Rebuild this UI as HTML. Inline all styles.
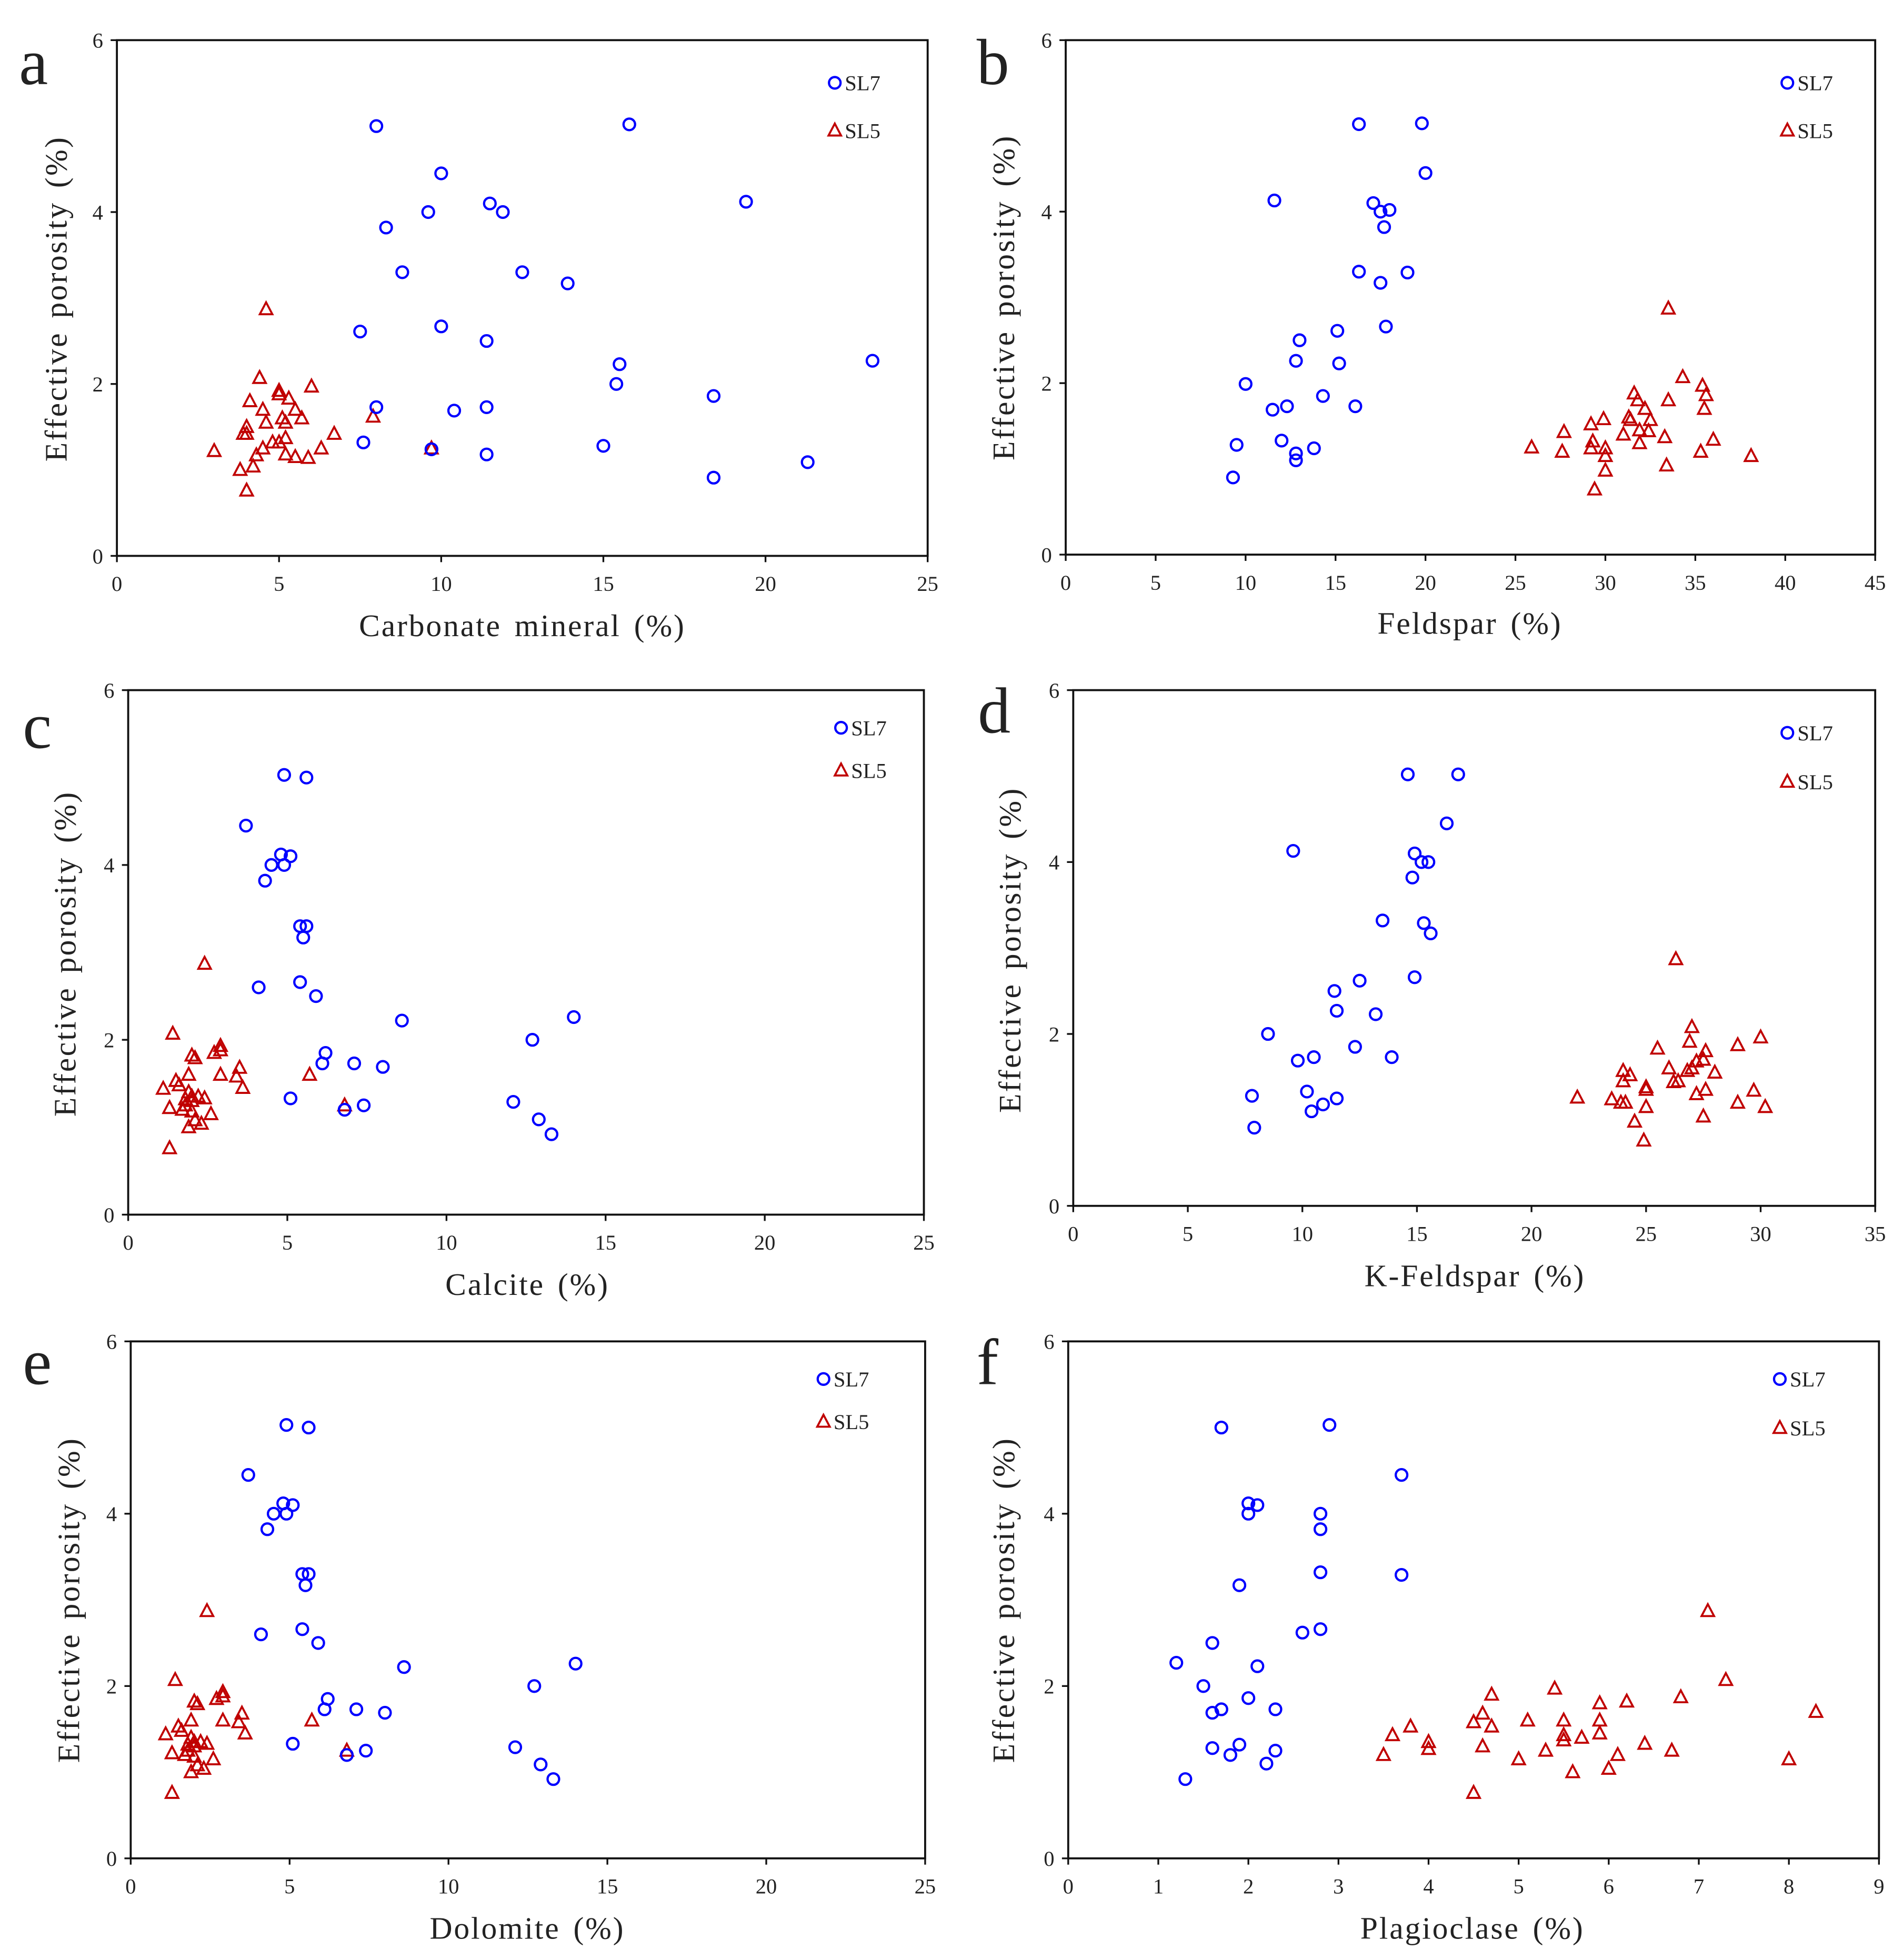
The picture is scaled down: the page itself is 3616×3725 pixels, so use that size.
<!DOCTYPE html>
<html><head><meta charset="utf-8"><style>
html,body{margin:0;padding:0;background:#fff}
svg{display:block}
text{font-family:"Liberation Serif","Times New Roman",serif;fill:#222}
</style></head><body>
<svg id="fig" width="3616" height="3725" viewBox="0 0 1516 1562" xmlns="http://www.w3.org/2000/svg"></svg>
<script>
const aSL7X=[8.0,15.8,10.0,11.5,9.6,11.9,19.4,8.3,8.8,12.5,13.9,7.5,10.0,11.4,15.5,23.3,15.4,18.4,8.0,10.4,11.4,7.6,9.7,15.0,11.4,21.3,18.4];
const aSL7Y=[5.0,5.02,4.45,4.1,4.0,4.0,4.12,3.82,3.3,3.3,3.17,2.61,2.67,2.5,2.23,2.27,2.0,1.86,1.73,1.69,1.73,1.32,1.24,1.28,1.18,1.09,0.91];
const aSL5X=[4.6,4.4,5.0,5.0,6.0,5.3,4.1,5.5,4.5,5.1,5.7,5.2,4.6,7.9,4.0,3.9,4.0,6.7,5.2,4.8,5.0,4.5,6.3,3.0,5.2,4.3,5.5,5.9,9.7,3.8,4.2,4.0];
const aSL5Y=[2.87,2.07,1.92,1.88,1.97,1.83,1.8,1.7,1.7,1.6,1.6,1.55,1.55,1.62,1.5,1.42,1.42,1.42,1.37,1.32,1.32,1.25,1.25,1.22,1.18,1.17,1.15,1.14,1.25,1.0,1.04,0.76];
const bSL7X=[16.3,19.8,20.0,11.6,17.1,17.5,18.0,17.7,16.3,19.0,17.5,15.1,17.8,13.0,12.8,15.2,10.0,14.3,11.5,12.3,16.1,9.5,12.0,13.8,12.8,12.8,9.3];
const bSL7Y=[5.02,5.03,4.45,4.13,4.1,4.0,4.02,3.82,3.3,3.29,3.17,2.61,2.66,2.5,2.26,2.23,1.99,1.85,1.69,1.73,1.73,1.28,1.33,1.24,1.18,1.1,0.9];
const bSL5X=[33.5,34.3,35.4,31.6,35.6,31.8,33.5,32.2,35.5,31.3,31.4,29.9,32.5,29.2,27.7,31.9,32.4,31.0,33.3,36.0,29.3,31.9,25.9,30.0,29.2,27.6,30.0,35.3,38.1,33.4,30.0,29.4];
const bSL5Y=[2.87,2.07,1.97,1.88,1.86,1.8,1.8,1.7,1.7,1.6,1.57,1.58,1.57,1.52,1.43,1.45,1.44,1.4,1.37,1.34,1.32,1.3,1.25,1.24,1.24,1.2,1.15,1.2,1.15,1.04,0.98,0.76];
const cSL7X=[4.9,5.6,3.7,5.1,4.8,4.5,4.9,4.3,5.4,5.6,5.5,4.1,5.4,5.9,8.6,14.0,12.7,6.2,6.1,7.1,8.0,5.1,7.4,12.1,6.8,12.9,13.3];
const cSL7Y=[5.03,5.0,4.45,4.1,4.12,4.0,4.0,3.82,3.3,3.3,3.17,2.6,2.66,2.5,2.22,2.26,2.0,1.85,1.73,1.73,1.69,1.33,1.25,1.29,1.2,1.09,0.92];
const cSL5X=[2.4,1.4,2.9,2.0,2.1,2.9,2.7,3.5,1.9,3.4,5.7,1.5,1.6,2.9,3.6,1.1,1.9,2.0,2.2,2.4,1.3,1.8,1.7,2.0,2.6,2.1,1.9,2.3,6.8,1.3,2.0,1.8];
const cSL5Y=[2.87,2.07,1.93,1.82,1.79,1.88,1.85,1.68,1.6,1.58,1.6,1.53,1.48,1.6,1.45,1.44,1.4,1.35,1.35,1.33,1.22,1.25,1.2,1.18,1.15,1.08,1.0,1.04,1.25,0.76,1.3,1.32];
const dSL7X=[14.6,16.8,16.3,9.6,14.9,15.2,15.5,14.8,13.5,15.3,15.6,12.5,14.9,11.4,11.5,13.2,8.5,12.3,9.8,10.5,13.9,7.8,10.2,11.5,10.9,10.4,7.9];
const dSL7Y=[5.02,5.02,4.45,4.13,4.1,4.0,4.0,3.82,3.32,3.29,3.17,2.62,2.66,2.5,2.27,2.23,2.0,1.85,1.69,1.73,1.73,1.28,1.33,1.25,1.18,1.1,0.91];
const dSL5X=[26.3,27.0,26.9,30.0,29.0,25.5,27.6,27.5,27.2,28.0,26.0,26.8,27.0,24.0,24.3,24.0,26.2,26.4,25.0,25.0,27.6,29.7,27.2,22.0,23.5,23.9,24.1,29.0,30.2,25.0,27.5,24.5,24.9];
const dSL5Y=[2.87,2.08,1.91,1.96,1.87,1.83,1.8,1.7,1.68,1.55,1.6,1.57,1.6,1.57,1.52,1.45,1.44,1.45,1.38,1.35,1.35,1.34,1.3,1.26,1.24,1.2,1.2,1.2,1.15,1.15,1.04,0.98,0.76];
const eSL7X=[4.9,5.6,3.7,5.1,4.8,4.5,4.9,4.3,5.4,5.6,5.5,4.1,5.4,5.9,8.6,14.0,12.7,6.2,6.1,7.1,8.0,5.1,7.4,12.1,6.8,12.9,13.3];
const eSL7Y=[5.03,5.0,4.45,4.1,4.12,4.0,4.0,3.82,3.3,3.3,3.17,2.6,2.66,2.5,2.22,2.26,2.0,1.85,1.73,1.73,1.69,1.33,1.25,1.29,1.2,1.09,0.92];
const eSL5X=[2.4,1.4,2.9,2.0,2.1,2.9,2.7,3.5,1.9,3.4,5.7,1.5,1.6,2.9,3.6,1.1,1.9,2.0,2.2,2.4,1.3,1.8,1.7,2.0,2.6,2.1,1.9,2.3,6.8,1.3,2.0,1.8];
const eSL5Y=[2.87,2.07,1.93,1.82,1.79,1.88,1.85,1.68,1.6,1.58,1.6,1.53,1.48,1.6,1.45,1.44,1.4,1.35,1.35,1.33,1.22,1.25,1.2,1.18,1.15,1.08,1.0,1.04,1.25,0.76,1.3,1.32];
const fSL7X=[1.7,2.9,3.7,2.0,2.1,2.0,2.8,2.8,2.8,3.7,1.9,2.6,2.8,1.6,1.2,2.1,1.5,2.0,1.6,1.7,2.3,1.6,1.9,2.3,1.8,2.2,1.3];
const fSL7Y=[5.0,5.03,4.45,4.12,4.1,4.0,4.0,3.82,3.32,3.29,3.17,2.62,2.66,2.5,2.27,2.23,2.0,1.86,1.69,1.73,1.73,1.28,1.32,1.25,1.2,1.1,0.92];
const fSL5X=[7.1,7.3,5.4,4.7,6.8,6.2,5.9,8.3,4.6,5.5,5.1,5.9,4.5,3.8,4.7,3.6,5.5,5.9,5.7,5.5,4.0,6.4,4.6,4.0,5.3,6.7,3.5,6.1,5.0,8.0,6.0,5.6,4.5];
const fSL5Y=[2.87,2.07,1.97,1.9,1.87,1.82,1.8,1.7,1.68,1.6,1.6,1.6,1.58,1.53,1.53,1.43,1.43,1.45,1.4,1.37,1.35,1.33,1.3,1.27,1.25,1.25,1.2,1.2,1.15,1.15,1.04,1.0,0.76];
const yTicks=[0,2,4,6];
const ticksA=[0,5,10,15,20,25];
const ticksB=[0,5,10,15,20,25,30,35,40,45];
const ticksD=[0,5,10,15,20,25,30,35];
const ticksF=[0,1,2,3,4,5,6,7,8,9];

const NS="http://www.w3.org/2000/svg";
const svg=document.getElementById('fig');
function mk(tag,attrs,parent){const e=document.createElementNS(NS,tag);for(const k in attrs)e.setAttribute(k,attrs[k]);(parent||svg).appendChild(e);return e;}

const panels=[
 {id:'a',x0:93,x1:739,y0:32,y1:443,xmax:25,xt:ticksA,title:'Carbonate mineral (%)',s7x:aSL7X,s7y:aSL7Y,s5x:aSL5X,s5y:aSL5Y,lx:665,ly1:66,ly2:104,L:[15,67],yt:[45,238],xtt:[416,507]},
 {id:'b',x0:849,x1:1494,y0:32,y1:442,xmax:45,xt:ticksB,title:'Feldspar (%)',s7x:bSL7X,s7y:bSL7Y,s5x:bSL5X,s5y:bSL5Y,lx:1424,ly1:66,ly2:104,L:[778,67],yt:[800,237],xtt:[1171,505]},
 {id:'c',x0:102,x1:736,y0:550,y1:968,xmax:25,xt:ticksA,title:'Calcite (%)',s7x:cSL7X,s7y:cSL7Y,s5x:cSL5X,s5y:cSL5Y,lx:670,ly1:580,ly2:614,L:[18,596],yt:[52,760],xtt:[420,1032]},
 {id:'d',x0:855,x1:1494,y0:550,y1:961,xmax:35,xt:ticksD,title:'K-Feldspar (%)',s7x:dSL7X,s7y:dSL7Y,s5x:dSL5X,s5y:dSL5Y,lx:1424,ly1:584,ly2:623,L:[779,584],yt:[805,757],xtt:[1175,1025]},
 {id:'e',x0:104,x1:737,y0:1069,y1:1481,xmax:25,xt:ticksA,title:'Dolomite (%)',s7x:eSL7X,s7y:eSL7Y,s5x:eSL5X,s5y:eSL5Y,lx:656,ly1:1099,ly2:1133,L:[18,1103],yt:[55,1275],xtt:[420,1545]},
 {id:'f',x0:851,x1:1497,y0:1069,y1:1481,xmax:9,xt:ticksF,title:'Plagioclase (%)',s7x:fSL7X,s7y:fSL7Y,s5x:fSL5X,s5y:fSL5Y,lx:1418,ly1:1099,ly2:1138,L:[778,1103],yt:[800,1275],xtt:[1173,1545]}
];
const BLUE='#0000ff', RED='#c00000';
function tri(g,cx,cy){return mk('polygon',{points:`${cx},${cy-5.5} ${cx-5},${cy+4} ${cx+5},${cy+4}`,fill:'none',stroke:RED,'stroke-width':1.6},g);}
function circ(g,cx,cy){return mk('circle',{cx:cx,cy:cy,r:4.6,fill:'none',stroke:BLUE,'stroke-width':1.8},g);}

panels.forEach(p=>{
 const g=mk('g',{});
 
 
 const sx=v=>p.x0+(p.x1-p.x0)*v/p.xmax;
 const sy=v=>p.y1-(p.y1-p.y0)*v/6;
 const fr=mk('rect',{x:p.x0,y:p.y0,width:p.x1-p.x0,height:p.y1-p.y0,fill:'none',stroke:'#111','stroke-width':1.6},g);
 
 
 p.xt.forEach(t=>{
  mk('line',{x1:sx(t),x2:sx(t),y1:p.y1,y2:p.y1+5,stroke:'#111','stroke-width':1.4},g);
  const tx=mk('text',{x:sx(t),y:p.y1+28,'text-anchor':'middle','font-size':17},g);tx.textContent=t;
  
  
 });
 yTicks.forEach(t=>{
  mk('line',{x1:p.x0-5,x2:p.x0,y1:sy(t),y2:sy(t),stroke:'#111','stroke-width':1.4},g);
  const tx=mk('text',{x:p.x0-11,y:sy(t)+6,'text-anchor':'end','font-size':17},g);tx.textContent=t;
  
  
 });
 const xt=mk('text',{x:p.xtt[0],y:p.xtt[1],'text-anchor':'middle','font-size':25,'letter-spacing':1.2,'word-spacing':3},g);xt.textContent=p.title;
 
 
 const yt=mk('text',{x:0,y:0,transform:`translate(${p.yt[0]+8},${p.yt[1]}) rotate(-90)`,'text-anchor':'middle','font-size':25,'letter-spacing':1.4,'word-spacing':3},g);yt.textContent='Effective porosity (%)';
 
 
 const lt=mk('text',{x:p.L[0],y:p.L[1],'font-size':52},g);lt.textContent=p.id;
 
 
 p.s5x.forEach((v,i)=>{const m=tri(g,sx(v),sy(p.s5y[i]));
  
  });
 p.s7x.forEach((v,i)=>{const m=circ(g,sx(v),sy(p.s7y[i]));
  
  });
 const l1=circ(g,p.lx,p.ly1);
 
 
 const t1=mk('text',{x:p.lx+8,y:p.ly1+6,'font-size':17},g);t1.textContent='SL7';
 
 
 const l2=tri(g,p.lx,p.ly2);
 
 
 const t2=mk('text',{x:p.lx+8,y:p.ly2+6,'font-size':17},g);t2.textContent='SL5';
 
 
});
</script>
</body></html>
